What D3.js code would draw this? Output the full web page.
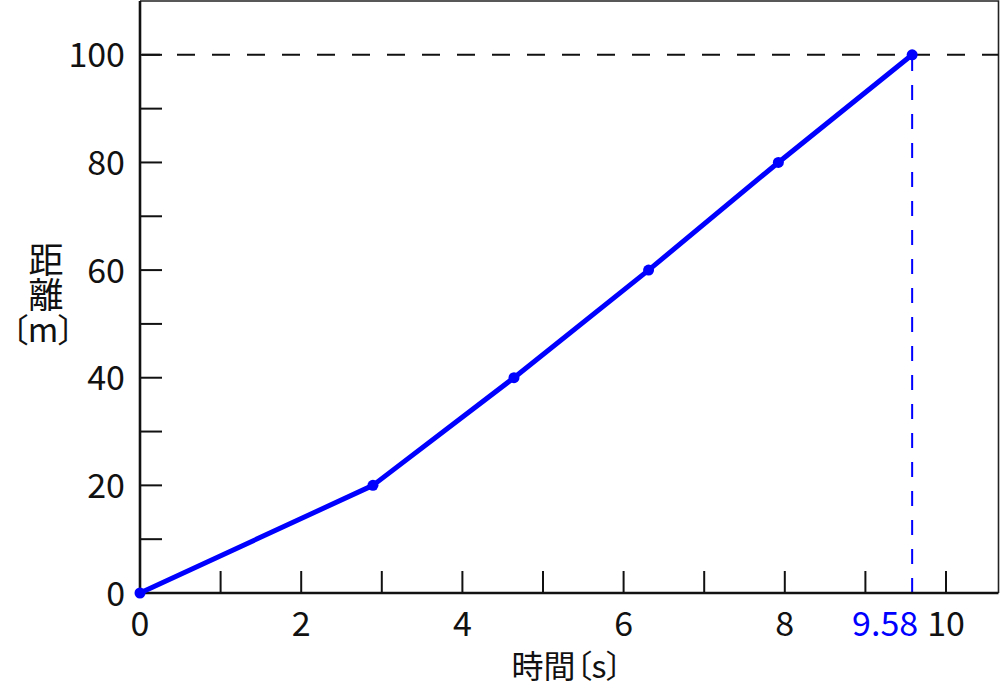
<!DOCTYPE html>
<html><head><meta charset="utf-8">
<script src="https://cdn.jsdelivr.net/npm/d3@7"></script>
<style>
body{margin:0;background:#fff;}
text{font-family:"Noto Sans CJK JP","Noto Sans",sans-serif;font-feature-settings:"palt";}
</style></head>
<body><svg id="c" width="1000" height="689"></svg>
<script>
const times = [0, 2.89, 4.64, 6.31, 7.92, 9.58];
const distances = [0, 20, 40, 60, 80, 100];
const xTickLabels = [0, 2, 4, 6, 8, 10];
const yTickLabels = [0, 20, 40, 60, 80, 100];
const xLabel = "時間〔s〕";
const yLabelMain = "距離";
const yLabelUnit = "〔m〕";
const finishTime = 9.58;
const finishDist = 100;

const svg = d3.select("#c");
const L = 140, B = 593, R = 998.5, T = 1;
const x = d3.scaleLinear().domain([0, 10]).range([L, 946]);
const y = d3.scaleLinear().domain([0, 110]).range([B, T]);

// frame top/right
svg.append("path").attr("d", `M${L},${T}H${R}V${B}`).attr("fill","none").attr("stroke","#222").attr("stroke-width",1.6);

// ticks
const xt = d3.range(1, 11);
svg.selectAll(".xt").data(xt).join("line")
  .attr("x1", d=>x(d)).attr("x2", d=>x(d)).attr("y1", B).attr("y2", B-22)
  .attr("stroke","#111").attr("stroke-width",2);
const yt = d3.range(10, 110, 10);
svg.selectAll(".yt").data(yt).join("line")
  .attr("y1", d=>y(d)).attr("y2", d=>y(d)).attr("x1", L).attr("x2", L+22)
  .attr("stroke","#111").attr("stroke-width",2);

// dashed guides
svg.append("line").attr("x1", L+2).attr("x2", R).attr("y1", y(finishDist)).attr("y2", y(finishDist))
  .attr("stroke","#111").attr("stroke-width",2).attr("stroke-dasharray","18,17");
svg.append("line").attr("x1", x(finishTime)).attr("x2", x(finishTime)).attr("y1", B).attr("y2", y(finishDist))
  .attr("stroke","#0000ff").attr("stroke-width",2).attr("stroke-dasharray","15,14");

// axes lines
svg.append("path").attr("d", `M${L},${T}V${B}H${R}`).attr("fill","none").attr("stroke","#111").attr("stroke-width",2.6);

// data line
const pts = times.map((t,i)=>[t, distances[i]]);
svg.append("path").datum(pts)
  .attr("d", d3.line().x(d=>x(d[0])).y(d=>y(d[1])))
  .attr("fill","none").attr("stroke","#0000ff").attr("stroke-width",5).attr("stroke-linejoin","round");
svg.selectAll(".pt").data(pts).join("circle")
  .attr("cx", d=>x(d[0])).attr("cy", d=>y(d[1])).attr("r",5.5).attr("fill","#0000ff");

// tick labels
svg.selectAll(".xl").data(xTickLabels).join("text")
  .attr("x", d=>x(d)).attr("y", 636).attr("text-anchor","middle")
  .attr("font-size",34).attr("fill","#111").text(d=>d);
svg.append("text").attr("x", x(finishTime)+6).attr("y", 636).attr("text-anchor","end")
  .attr("font-size",34).attr("fill","#0000ff").text(finishTime);
svg.selectAll(".yl").data(yTickLabels).join("text")
  .attr("x", 125).attr("y", d=>y(d)+12.5).attr("text-anchor","end")
  .attr("font-size",34).attr("fill","#111").text(d=>d);

// axis titles
svg.append("text").attr("x", 567).attr("y", 678).attr("text-anchor","middle")
  .attr("font-size",32).attr("fill","#111").text(xLabel);
svg.append("text").attr("x", 46).attr("y", 242)
  .style("writing-mode","vertical-rl").style("font-feature-settings","normal")
  .attr("font-size",35).attr("fill","#111").text(yLabelMain);
svg.append("text").attr("x", 43).attr("y", 342).attr("text-anchor","middle")
  .attr("font-size",33).attr("fill","#111").text(yLabelUnit);
</script></body></html>
